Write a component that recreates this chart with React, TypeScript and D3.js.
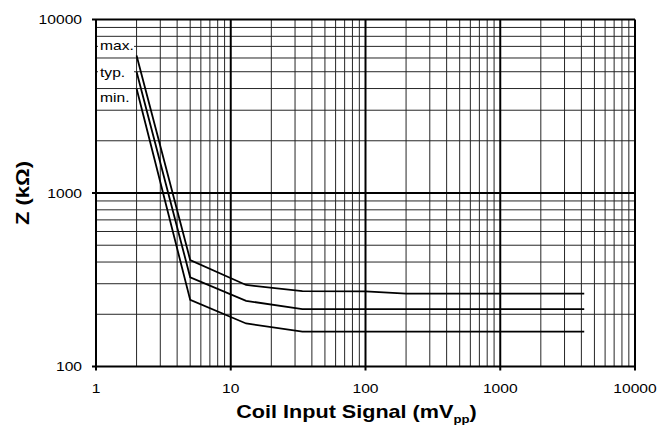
import React from 'react';
import * as d3 from 'd3';

// curve data (x in mVpp, Z in kOhm)
const signalMv = [2, 5, 13, 34, 100, 200, 4200];
const zMax = [6200, 411, 295, 272, 271, 263, 263];
const zTyp = [5000, 327, 239, 214, 214, 214, 214];
const zMin = [4000, 242, 177, 159, 159, 159, 159];

const seriesNames = ['max.', 'typ.', 'min.'];
const labelZ = [7100, 4980, 3530];

const xTicks = [1, 10, 100, 1000, 10000];
const yTicks = [100, 1000, 10000];

const W = 659;
const H = 428;
const margin = { top: 19.5, right: 24, bottom: 61.5, left: 96 };

const FONT = '"Liberation Sans", Arial, Helvetica, sans-serif';
const SX = 1.25; // text in the reference is stretched sideways

const App: React.FC = () => {
  const x = d3.scaleLog().domain([1, 10000]).range([margin.left, W - margin.right]);
  const y = d3.scaleLog().domain([100, 10000]).range([H - margin.bottom, margin.top]);

  const minorX: number[] = [];
  [1, 10, 100, 1000].forEach(d => {
    for (let m = 2; m <= 9; m++) minorX.push(d * m);
  });
  const minorY: number[] = [];
  [100, 1000].forEach(d => {
    for (let m = 2; m <= 9; m++) minorY.push(d * m);
  });

  const line = d3
    .line<[number, number]>()
    .x(d => x(d[0]))
    .y(d => y(d[1]));

  const series = [zMax, zTyp, zMin].map(vals =>
    signalMv.map((s, i) => [s, vals[i]] as [number, number])
  );

  const [x0, x1] = x.range();
  const [y0, y1] = y.range();

  return (
    <svg
      width={W}
      height={H}
      style={{ position: 'absolute', left: 0, top: 0, background: '#fff' }}
      fontFamily={FONT}
    >
      {/* minor grid */}
      <g stroke="#262626" strokeWidth={1}>
        {minorX.map(v => (
          <line key={'mx' + v} x1={x(v)} x2={x(v)} y1={y1} y2={y0} />
        ))}
        {minorY.map(v => (
          <line key={'my' + v} x1={x0} x2={x1} y1={y(v)} y2={y(v)} />
        ))}
      </g>

      {/* major grid + frame */}
      <g stroke="#000" strokeWidth={2}>
        {xTicks.map(v => (
          <line key={'Mx' + v} x1={x(v)} x2={x(v)} y1={y1} y2={y0 + 4} />
        ))}
        {yTicks.map(v => (
          <line key={'My' + v} x1={x0 - 4} x2={x1} y1={y(v)} y2={y(v)} />
        ))}
      </g>

      {/* curves */}
      <g fill="none" stroke="#000" strokeWidth={1.8}>
        {series.map((s, i) => (
          <path key={i} d={line(s) || ''} />
        ))}
      </g>

      {/* curve labels with white boxes */}
      {seriesNames.map((name, i) => {
        const cy = y(labelZ[i]);
        return (
          <g key={name}>
            <rect x={x0 + 2} y={cy - 7} width={36} height={14} fill="#fff" />
            <text
              transform={`translate(${x0 + 4},${cy + 4.5}) scale(${SX},1)`}
              fontSize={12.5}
              fill="#000"
            >
              {name}
            </text>
          </g>
        );
      })}

      {/* y tick labels */}
      {yTicks.map(v => (
        <text
          key={'yl' + v}
          transform={`translate(${x0 - 14},${y(v) + 4.5}) scale(${SX},1)`}
          textAnchor="end"
          fontSize={12.5}
        >
          {v}
        </text>
      ))}

      {/* x tick labels */}
      {xTicks.map(v => (
        <text
          key={'xl' + v}
          transform={`translate(${x(v)},${y0 + 26.5}) scale(${SX},1)`}
          textAnchor="middle"
          fontSize={12.5}
        >
          {v}
        </text>
      ))}

      {/* axis titles */}
      <text
        transform={`translate(${(x0 + x1) / 2 - 9},418) scale(1.2,1)`}
        textAnchor="middle"
        fontSize={18}
        fontWeight="bold"
      >
        Coil Input Signal (mV
        <tspan fontSize={11} dy={5}>pp</tspan>
        <tspan dy={-5}>)</tspan>
      </text>
      <text
        transform={`translate(29,${(y0 + y1) / 2}) rotate(-90) scale(1.22,1)`}
        textAnchor="middle"
        fontSize={18}
        fontWeight="bold"
      >
        Z (kΩ)
      </text>
    </svg>
  );
};

export default App;
